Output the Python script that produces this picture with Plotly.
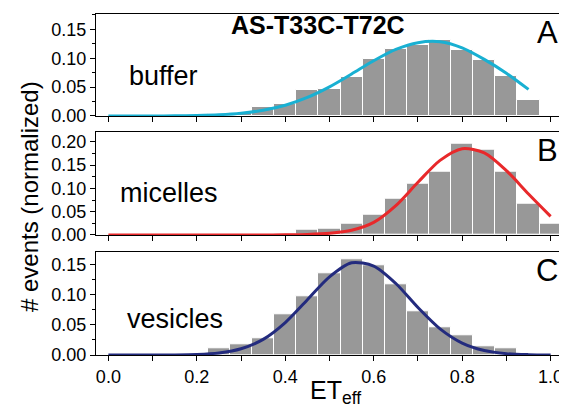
import plotly.graph_objects as go

# ---------------- data ----------------
bin_width = 0.05

# Panel A: buffer
a_bin_centers = [0.25, 0.30, 0.35, 0.40, 0.45, 0.50, 0.55, 0.60, 0.65, 0.70, 0.75, 0.80, 0.85, 0.90, 0.95]
a_counts = [0.003, 0.006, 0.016, 0.021, 0.045, 0.047, 0.068, 0.098, 0.1165, 0.122, 0.1315, 0.115, 0.0975, 0.069, 0.028]

# Panel B: micelles
b_bin_centers = [0.35, 0.40, 0.45, 0.50, 0.55, 0.60, 0.65, 0.70, 0.75, 0.80, 0.85, 0.90, 0.95, 1.00]
b_counts = [0.001, 0.003, 0.011, 0.014, 0.024, 0.044, 0.077, 0.110, 0.135, 0.196, 0.182, 0.135, 0.067, 0.024]

# Panel C: vesicles
c_bin_centers = [0.25, 0.30, 0.35, 0.40, 0.45, 0.50, 0.55, 0.60, 0.65, 0.70, 0.75, 0.80, 0.85, 0.90]
c_counts = [0.012, 0.018, 0.028, 0.068, 0.097, 0.136, 0.159, 0.150, 0.118, 0.072, 0.046, 0.033, 0.014, 0.011]

# Fitted curves
a_fit_x = [0.0, 0.05, 0.1, 0.15, 0.2, 0.25, 0.3, 0.35, 0.4, 0.45, 0.5, 0.55, 0.6, 0.65, 0.7, 0.75, 0.8, 0.85, 0.9, 0.95]
a_fit_y = [0.0, 0.0, 0.0001, 0.0003, 0.0009, 0.0022, 0.0049, 0.010, 0.0187, 0.0322, 0.0505, 0.0727, 0.0956, 0.1152, 0.1269, 0.1285, 0.118, 0.098, 0.074, 0.046]

b_fit_x = [0.0, 0.05, 0.1, 0.15, 0.2, 0.25, 0.3, 0.35, 0.4, 0.45, 0.5, 0.55, 0.6, 0.65, 0.7, 0.75, 0.8, 0.85, 0.9, 0.95, 1.0]
b_fit_y = [0.0, 0.0, 0.0, 0.0, 0.0, 0.0, 0.0, 0.0001, 0.0003, 0.0011, 0.0035, 0.010, 0.027, 0.063, 0.113, 0.160, 0.185, 0.176, 0.138, 0.088, 0.040]

c_fit_x = [0.0, 0.05, 0.1, 0.15, 0.2, 0.25, 0.3, 0.35, 0.4, 0.45, 0.5, 0.55, 0.6, 0.65, 0.7, 0.75, 0.8, 0.85, 0.9, 0.95, 1.0]
c_fit_y = [0.0, 0.0, 0.00004, 0.0002, 0.00095, 0.0035, 0.0104, 0.026, 0.054, 0.092, 0.130, 0.1535, 0.148, 0.119, 0.079, 0.0435, 0.0199, 0.0075, 0.0023, 0.0006, 0.0001]

panel_names = ["buffer", "micelles", "vesicles"]
panel_letters = ["A", "B", "C"]
fit_colors = ["#19B0D2", "#E8292B", "#232B7E"]
title_text = "AS-T33C-T72C"

x_tick_vals = [0.0, 0.1, 0.2, 0.3, 0.4, 0.5, 0.6, 0.7, 0.8, 0.9, 1.0]
x_tick_text = ["0.0", "", "0.2", "", "0.4", "", "0.6", "", "0.8", "", "1.0"]

# ---------------- figure ----------------
bar_color = "#989898"
fig = go.Figure()

bars = [(a_bin_centers, a_counts), (b_bin_centers, b_counts), (c_bin_centers, c_counts)]
fits = [(a_fit_x, a_fit_y), (b_fit_x, b_fit_y), (c_fit_x, c_fit_y)]
axis_ids = ["", "2", "3"]

for i in range(3):
    xa = "x" + axis_ids[i]
    ya = "y" + axis_ids[i]
    bx, by = bars[i]
    fig.add_trace(go.Bar(x=bx, y=by, width=[bin_width] * len(bx),
                         marker=dict(color=bar_color, line=dict(color="white", width=1)),
                         xaxis=xa, yaxis=ya, showlegend=False))
    fx, fy = fits[i]
    fig.add_trace(go.Scatter(x=fx, y=fy, mode="lines",
                             line=dict(color=fit_colors[i], width=3, shape="spline", smoothing=0.8),
                             xaxis=xa, yaxis=ya, showlegend=False))

domains = [[0.7009, 1.0], [0.352, 0.6548], [0.0, 0.3012]]
yranges = [[0, 0.1765], [0, 0.2215], [0, 0.171]]

axis_common = dict(showline=True, linecolor="black", linewidth=1.3, mirror=True,
                   showgrid=False, zeroline=False, ticks="outside", ticklen=5,
                   tickcolor="black", tickwidth=1.2,
                   tickfont=dict(family="Liberation Sans, Arial", size=18, color="black"))

layout_axes = {}
for i in range(3):
    xname = "xaxis" + axis_ids[i]
    yname = "yaxis" + axis_ids[i]
    layout_axes[xname] = dict(axis_common, range=[-0.028, 1.028], domain=[0, 1],
                              anchor="y" + axis_ids[i],
                              tickvals=x_tick_vals, ticktext=x_tick_text,
                              showticklabels=(i == 2))
    layout_axes[yname] = dict(axis_common, range=yranges[i], domain=domains[i],
                              anchor="x" + axis_ids[i], dtick=0.05, tick0=0,
                              tickformat=".2f",
                              minor=dict(dtick=0.025, ticks="outside", ticklen=3,
                                         tickcolor="black", tickwidth=1.2))

fig.update_layout(**layout_axes)

annotations = []
# title
annotations.append(dict(text="<b>" + title_text + "</b>", x=0.473, y=0.9677, xref="x", yref="paper",
                        xanchor="center", yanchor="middle", showarrow=False,
                        font=dict(family="Liberation Sans, Arial", size=25, color="black")))
name_pos = [(0.124, 0.818), (0.137, 0.475), (0.151, 0.1056)]
letter_y = [0.945, 0.601, 0.249]
for i in range(3):
    annotations.append(dict(text=panel_names[i], x=name_pos[i][0], y=name_pos[i][1],
                            xref="x", yref="paper", xanchor="center", yanchor="middle",
                            showarrow=False,
                            font=dict(family="Liberation Sans, Arial", size=27, color="black")))
    annotations.append(dict(text=panel_letters[i], x=0.9936, y=letter_y[i],
                            xref="paper", yref="paper", xanchor="right", yanchor="middle",
                            showarrow=False,
                            font=dict(family="Liberation Sans, Arial", size=31, color="black")))
# y title
annotations.append(dict(text="# events (normalized)", x=-0.1435, y=0.466, xref="paper", yref="paper",
                        xanchor="center", yanchor="middle", textangle=-90, showarrow=False,
                        font=dict(family="Liberation Sans, Arial", size=24, color="black")))
# x title
annotations.append(dict(text="ET<sub>eff</sub>", x=0.5136, y=-0.108, xref="x3", yref="paper",
                        xanchor="center", yanchor="middle", showarrow=False,
                        font=dict(family="Liberation Sans, Arial", size=25, color="black")))

# The page body has an 8 px margin, so the figure is sized/offset to keep the
# plot area at the reference's window positions.
fig.update_layout(width=559, height=400,
                  margin=dict(l=88, r=4, t=6, b=53),
                  paper_bgcolor="white", plot_bgcolor="white",
                  bargap=0, barmode="overlay",
                  annotations=annotations)

fig.write_html("out.html")
